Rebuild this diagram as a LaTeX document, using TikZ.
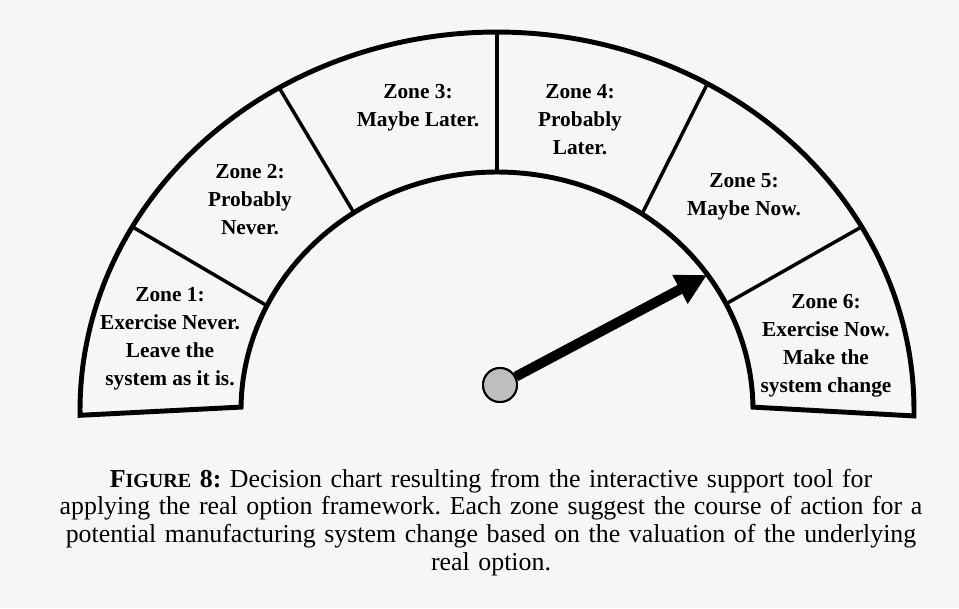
\documentclass[tikz,border=0pt]{standalone}
\usepackage{fontspec}
\setmainfont{Liberation Serif}
\usetikzlibrary{arrows.meta}
\definecolor{paper}{RGB}{246,246,246}
\definecolor{hubgray}{RGB}{190,190,190}
\tikzset{
  arch/.style={line width=3.7pt, line join=miter},
  divider/.style={line width=2.6pt},
  zonetext/.style={font=\bfseries\fontsize{16}{21}\selectfont, align=center, inner sep=0pt},
  captiontext/.style={font=\frenchspacing\fontsize{19.4}{20.9}\selectfont, align=center, text width=700pt, inner sep=0pt},
  pointer/.style={line width=7.5pt, -{Triangle[length=23pt,width=23pt]}},
  hubdisc/.style={circle, fill=hubgray, draw=black, line width=1.5pt, minimum size=25.5pt, inner sep=0pt}
}
\begin{document}
\begin{tikzpicture}[x=0.75pt, y=-0.75pt]
  % page
  \fill[paper] (0,0) rectangle (959,608);
  \useasboundingbox (0,0) rectangle (959,608);

  % the half ring, outer and inner elliptical arcs closed by the two feet
  \draw[arch]
    plot[domain=180.8:-0.9, samples=180] ({497+417*cos(\x)},{410-378*sin(\x)})
    -- plot[domain=0.7:179.3, samples=180] ({497+256*cos(\x)},{410-238*sin(\x)})
    -- cycle;

  % zone boundaries
  \foreach \n/\ao/\ai in {1/151/154, 2/121.5/124, 3/90/90, 4/59.7/55.5, 5/29/26.5} {
    \coordinate (out\n) at ({497+417*cos(\ao)},{410-378*sin(\ao)});
    \coordinate (in\n)  at ({497+256*cos(\ai)},{410-238*sin(\ai)});
    \draw[divider] (in\n) -- (out\n);
  }

  % zone labels
  \node[zonetext] (z1) at (170,339) {Zone 1:\\Exercise Never.\\Leave the\\system as it is.};
  \node[zonetext] (z2) at (250,200) {Zone 2:\\Probably\\Never.};
  \node[zonetext] (z3) at (418,108) {Zone 3:\\Maybe Later.};
  \node[zonetext] (z4) at (580,120) {Zone 4:\\Probably\\Later.};
  \node[zonetext] (z5) at (744,197) {Zone 5:\\Maybe Now.};
  \node[zonetext] (z6) at (826,346) {Zone 6:\\Exercise Now.\\Make the\\system change};

  % pointer
  \coordinate (tip) at (707,275);
  \node[hubdisc] (hub) at (500,385) {};
  \draw[pointer] (hub) -- (tip);
  \node[hubdisc] at (hub) {};

  % caption
  \node[captiontext, anchor=base] (cap) at (491,487)
    {{\bfseries F{\fontsize{15}{20.9}\selectfont IGURE} 8:} Decision chart resulting from the interactive support tool for\\
     applying the real option framework. Each zone suggest the course of action for a\\
     potential manufacturing system change based on the valuation of the underlying\\
     real option.};
\end{tikzpicture}
\end{document}
